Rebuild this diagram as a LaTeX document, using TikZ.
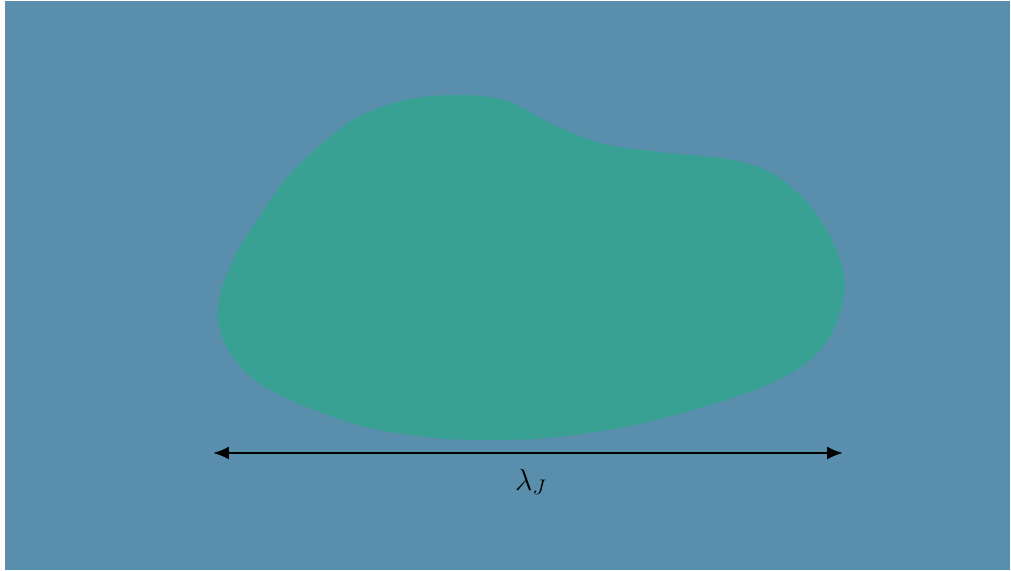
\documentclass[tikz,border=0pt]{standalone}
\usepackage{amsmath}
\usepackage{tikz}
\usepackage{xcolor}
\usetikzlibrary{arrows.meta,positioning}
\definecolor{bgblue}{RGB}{89,143,172}
\definecolor{blobgreen}{RGB}{57,160,148}

\begin{document}
\begin{tikzpicture}[x=0.02cm,y=-0.02cm,>=Stealth]
  % 边界与背景
  \useasboundingbox (0,0) rectangle (1011,571);
  \fill[white] (0,0) rectangle (1011,571);
  \fill[bgblue] (5,1) rectangle (1010,570);
  % 团块
  \fill[blobgreen] plot[smooth cycle,tension=0.55] coordinates {
    (460,95) (508,101) (550,123) (600,143) (650,151) (733,160)
    (775,175) (808,203) (830,236) (844,275) (842,305) (829,338)
    (805,364) (765,386) (700,408) (620,428) (533,439) (450,439)
    (370,428) (302,405) (256,381) (229,352) (218,320) (222,288)
    (238,250) (252,228) (277,190) (307,157) (353,120) (405,100)};
  % 尺度箭头
  \coordinate (L) at (213,453);
  \coordinate (R) at (843,453);
  \draw[line width=1.2pt,{Latex[length=3.2mm,width=2.6mm]}-{Latex[length=3.2mm,width=2.6mm]}] (L)--(R);
  \node[font=\LARGE] (lam) at (531,482) {$\lambda_J$};
\end{tikzpicture}
\end{document}
